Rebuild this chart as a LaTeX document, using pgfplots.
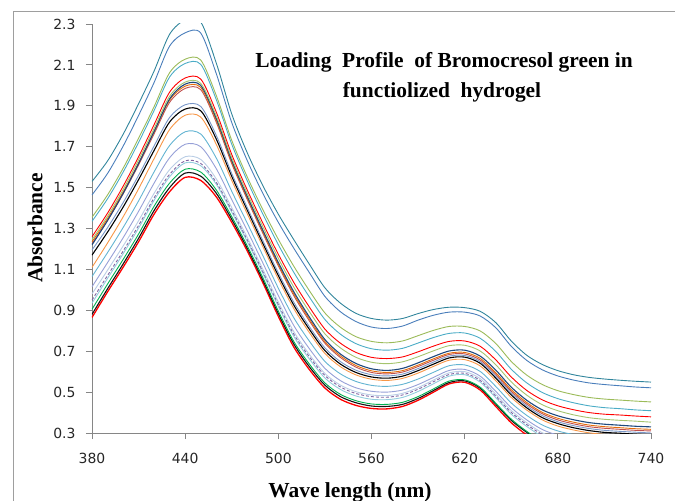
\documentclass[border=0pt]{standalone}
\usepackage{pgfplots}
\pgfplotsset{compat=1.18}
\usepackage{pgfplotstable}
\usepackage{fontspec}
\setmainfont{Liberation Serif}
\newfontfamily\tickfont{DejaVu Sans}

\definecolor{cA}{RGB}{49,133,156}
\definecolor{cB}{RGB}{74,126,187}
\definecolor{cC}{RGB}{155,187,89}
\definecolor{cD}{RGB}{75,172,198}
\definecolor{cE}{RGB}{255,0,0}
\definecolor{cF}{RGB}{165,196,110}
\definecolor{cG}{RGB}{31,73,125}
\definecolor{cH}{RGB}{228,108,10}
\definecolor{cI}{RGB}{192,80,77}
\definecolor{cJ}{RGB}{120,150,200}
\definecolor{cK}{RGB}{0,0,0}
\definecolor{cL}{RGB}{247,150,70}
\definecolor{cM}{RGB}{100,180,210}
\definecolor{cN}{RGB}{150,160,215}
\definecolor{cO}{RGB}{185,205,229}
\definecolor{cP}{RGB}{128,100,162}
\definecolor{cQ}{RGB}{147,205,221}
\definecolor{cR}{RGB}{0,176,80}
\definecolor{cS}{RGB}{20,20,20}
\definecolor{cT}{RGB}{255,0,0}
\definecolor{axgray}{RGB}{134,134,134}

% absorbance spectra, one column per loading step
\pgfplotstableread{
wl  c1    c2    c3    c4    c5    c6    c7    c8    c9    c10   c11   c12   c13   c14   c15   c16   c17   c18   c19   c20
380 1.53  1.464 1.355 1.335 1.260 1.245 1.220 1.235 1.225 1.195 1.170 1.110 1.065 1.015 0.980 0.950 0.935 0.905 0.880 0.865
390 1.63  1.569 1.464 1.445 1.375 1.360 1.339 1.349 1.339 1.304 1.282 1.229 1.182 1.133 1.096 1.070 1.056 1.028 1.005 0.99
400 1.76  1.702 1.594 1.575 1.506 1.490 1.471 1.478 1.469 1.426 1.404 1.356 1.304 1.254 1.214 1.189 1.176 1.148 1.126 1.11
410 1.91  1.853 1.741 1.721 1.651 1.635 1.618 1.620 1.611 1.560 1.539 1.494 1.435 1.384 1.338 1.315 1.302 1.273 1.252 1.235
420 2.07  2.014 1.896 1.877 1.808 1.789 1.775 1.774 1.763 1.704 1.682 1.642 1.577 1.522 1.472 1.450 1.438 1.409 1.388 1.37
430 2.25  2.192 2.062 2.041 1.967 1.947 1.934 1.928 1.917 1.843 1.821 1.784 1.706 1.646 1.588 1.565 1.553 1.522 1.500 1.48
440 2.32  2.257 2.128 2.107 2.036 2.016 2.006 1.996 1.985 1.905 1.884 1.854 1.773 1.712 1.651 1.631 1.621 1.590 1.571 1.55
450 2.31  2.256 2.124 2.103 2.031 2.010 2.000 1.990 1.979 1.897 1.876 1.845 1.762 1.700 1.638 1.618 1.607 1.576 1.556 1.535
460 2.11  2.058 1.951 1.931 1.870 1.851 1.839 1.830 1.820 1.756 1.738 1.712 1.645 1.593 1.543 1.526 1.517 1.489 1.473 1.455
470 1.86  1.818 1.731 1.712 1.662 1.645 1.633 1.625 1.617 1.569 1.555 1.535 1.482 1.441 1.402 1.389 1.380 1.358 1.345 1.33
480 1.67  1.632 1.552 1.533 1.488 1.471 1.457 1.450 1.442 1.402 1.390 1.372 1.326 1.289 1.256 1.245 1.236 1.215 1.203 1.19
490 1.51  1.472 1.393 1.371 1.327 1.309 1.292 1.285 1.277 1.241 1.228 1.212 1.168 1.132 1.101 1.090 1.081 1.060 1.048 1.035
500 1.37  1.330 1.247 1.221 1.174 1.154 1.134 1.125 1.118 1.083 1.070 1.053 1.008 0.972 0.940 0.929 0.919 0.896 0.884 0.87
510 1.245 1.203 1.115 1.085 1.036 1.013 0.990 0.980 0.971 0.939 0.925 0.908 0.863 0.825 0.795 0.783 0.772 0.747 0.735 0.72
520 1.125 1.084 0.996 0.965 0.916 0.893 0.867 0.857 0.848 0.820 0.807 0.791 0.749 0.712 0.684 0.673 0.662 0.637 0.624 0.61
530 1.01  0.968 0.887 0.855 0.808 0.785 0.757 0.747 0.739 0.716 0.703 0.689 0.650 0.616 0.591 0.581 0.569 0.545 0.534 0.52
540 0.935 0.893 0.817 0.783 0.739 0.716 0.686 0.677 0.669 0.649 0.637 0.624 0.589 0.556 0.534 0.525 0.513 0.489 0.478 0.465
550 0.885 0.845 0.771 0.737 0.694 0.670 0.640 0.630 0.622 0.607 0.596 0.584 0.552 0.521 0.502 0.493 0.481 0.458 0.448 0.435
560 0.86  0.818 0.748 0.712 0.670 0.646 0.614 0.604 0.596 0.585 0.574 0.563 0.533 0.504 0.486 0.478 0.465 0.442 0.432 0.42
570 0.852 0.811 0.741 0.705 0.664 0.639 0.606 0.596 0.589 0.579 0.568 0.557 0.528 0.500 0.483 0.475 0.463 0.440 0.430 0.418
580 0.86  0.823 0.750 0.714 0.672 0.648 0.616 0.605 0.598 0.588 0.578 0.567 0.538 0.510 0.494 0.486 0.474 0.450 0.440 0.43
590 0.884 0.852 0.776 0.740 0.697 0.673 0.643 0.632 0.625 0.615 0.605 0.593 0.564 0.537 0.522 0.514 0.503 0.478 0.469 0.46
600 0.904 0.876 0.802 0.767 0.725 0.702 0.674 0.663 0.656 0.647 0.637 0.626 0.597 0.572 0.559 0.551 0.541 0.516 0.508 0.50
610 0.915 0.891 0.821 0.787 0.748 0.727 0.701 0.690 0.684 0.676 0.667 0.656 0.629 0.606 0.594 0.586 0.578 0.554 0.547 0.54
620 0.913 0.891 0.821 0.789 0.750 0.729 0.705 0.694 0.687 0.679 0.671 0.659 0.633 0.611 0.600 0.592 0.585 0.560 0.555 0.548
630 0.895 0.872 0.799 0.763 0.724 0.701 0.676 0.665 0.657 0.649 0.641 0.628 0.601 0.578 0.566 0.557 0.549 0.524 0.519 0.51
640 0.84  0.815 0.738 0.699 0.658 0.634 0.608 0.595 0.587 0.578 0.569 0.556 0.528 0.504 0.490 0.481 0.473 0.446 0.441 0.43
650 0.75  0.724 0.650 0.612 0.574 0.550 0.524 0.512 0.504 0.496 0.486 0.474 0.447 0.424 0.410 0.401 0.392 0.368 0.362 0.35
660 0.68  0.655 0.583 0.545 0.508 0.485 0.460 0.449 0.441 0.432 0.423 0.412 0.386 0.364 0.350 0.341 0.332 0.308 0.303 0.29
670 0.635 0.609 0.537 0.498 0.462 0.438 0.413 0.401 0.394 0.385 0.375 0.364 0.339 0.317 0.301 0.293 0.283 0.260 0.255 0.24
680 0.605 0.579 0.507 0.468 0.433 0.409 0.384 0.372 0.364 0.355 0.346 0.334 0.310 0.289 0.272 0.263 0.255 0.231 0.226 0.21
690 0.585 0.559 0.488 0.448 0.414 0.389 0.365 0.353 0.345 0.336 0.326 0.315 0.292 0.270 0.254 0.245 0.235 0.213 0.208 0.19
700 0.572 0.545 0.474 0.433 0.400 0.375 0.351 0.339 0.331 0.322 0.312 0.301 0.279 0.257 0.240 0.231 0.221 0.199 0.194 0.175
710 0.564 0.537 0.466 0.424 0.392 0.367 0.343 0.331 0.323 0.313 0.303 0.293 0.270 0.250 0.231 0.222 0.212 0.191 0.185 0.165
720 0.558 0.531 0.461 0.419 0.388 0.362 0.338 0.326 0.318 0.308 0.299 0.288 0.267 0.246 0.227 0.218 0.208 0.187 0.181 0.16
730 0.553 0.525 0.456 0.413 0.383 0.358 0.333 0.321 0.313 0.304 0.294 0.284 0.263 0.243 0.223 0.214 0.204 0.184 0.177 0.155
740 0.549 0.521 0.452 0.409 0.379 0.353 0.330 0.318 0.310 0.300 0.290 0.280 0.260 0.240 0.220 0.210 0.200 0.180 0.170 0.15
}\spectra

\begin{document}
\begin{tikzpicture}
\useasboundingbox (-92bp,-68bp) rectangle (583bp,433bp);
% outer chart frame
\draw[axgray!80, line width=0.9bp] (-79bp,-80bp) -- (-79bp,422bp) -- (600bp,422bp);
\begin{axis}[
  scale only axis,
  width=559bp, height=409bp,
  xmin=380, xmax=740, ymin=0.3, ymax=2.3,
  axis x line*=bottom, axis y line*=left,
  axis line style={axgray, line width=0.9bp},
  xtick={380,440,500,560,620,680,740},
  ytick={0.3,0.5,0.7,0.9,1.1,1.3,1.5,1.7,1.9,2.1,2.3},
  tick align=outside, major tick length=6bp,
  tick style={axgray, line width=0.9bp},
  ticklabel style={font=\tickfont\fontsize{14}{16}\selectfont, text=black!85},
  /pgf/number format/assume math mode=true,
  yticklabel style={xshift=-7bp, /pgf/number format/.cd, fixed, fixed zerofill, precision=1},
  xticklabel style={yshift=-11bp, /pgf/number format/.cd, fixed, precision=0, 1000 sep={}},
  every axis plot/.append style={no markers, smooth, line width=0.9bp, line join=round},
]
\addplot[cT, line width=1.3bp] table[x=wl, y=c20] {\spectra};
\addplot[cS, line width=1.1bp] table[x=wl, y=c19] {\spectra};
\addplot[cR] table[x=wl, y=c18] {\spectra};
\addplot[cQ] table[x=wl, y=c17] {\spectra};
\addplot[cP, densely dashed] table[x=wl, y=c16] {\spectra};
\addplot[cO] table[x=wl, y=c15] {\spectra};
\addplot[cN] table[x=wl, y=c14] {\spectra};
\addplot[cM] table[x=wl, y=c13] {\spectra};
\addplot[cL] table[x=wl, y=c12] {\spectra};
\addplot[cK, line width=1.1bp] table[x=wl, y=c11] {\spectra};
\addplot[cJ] table[x=wl, y=c10] {\spectra};
\addplot[cI] table[x=wl, y=c9] {\spectra};
\addplot[cH] table[x=wl, y=c8] {\spectra};
\addplot[cG, line width=1.1bp] table[x=wl, y=c7] {\spectra};
\addplot[cF] table[x=wl, y=c6] {\spectra};
\addplot[cE] table[x=wl, y=c5] {\spectra};
\addplot[cD] table[x=wl, y=c4] {\spectra};
\addplot[cC] table[x=wl, y=c3] {\spectra};
\addplot[cB] table[x=wl, y=c2] {\spectra};
\addplot[cA] table[x=wl, y=c1] {\spectra};
\end{axis}
\node[anchor=base, font=\bfseries\fontsize{21.5}{24}\selectfont] at (352bp,365bp)
  {Loading\ \ Profile\ \ of Bromocresol green in};
\node[anchor=base, font=\bfseries\fontsize{21.5}{24}\selectfont] at (350bp,335bp)
  {functiolized\ \ hydrogel};
\node[rotate=90, font=\bfseries\fontsize{21.5}{24}\selectfont] at (-57bp,205bp) {Absorbance};
\node[anchor=base, font=\bfseries\fontsize{21.5}{24}\selectfont] at (258bp,-64bp) {Wave length (nm)};
\end{tikzpicture}
\end{document}
